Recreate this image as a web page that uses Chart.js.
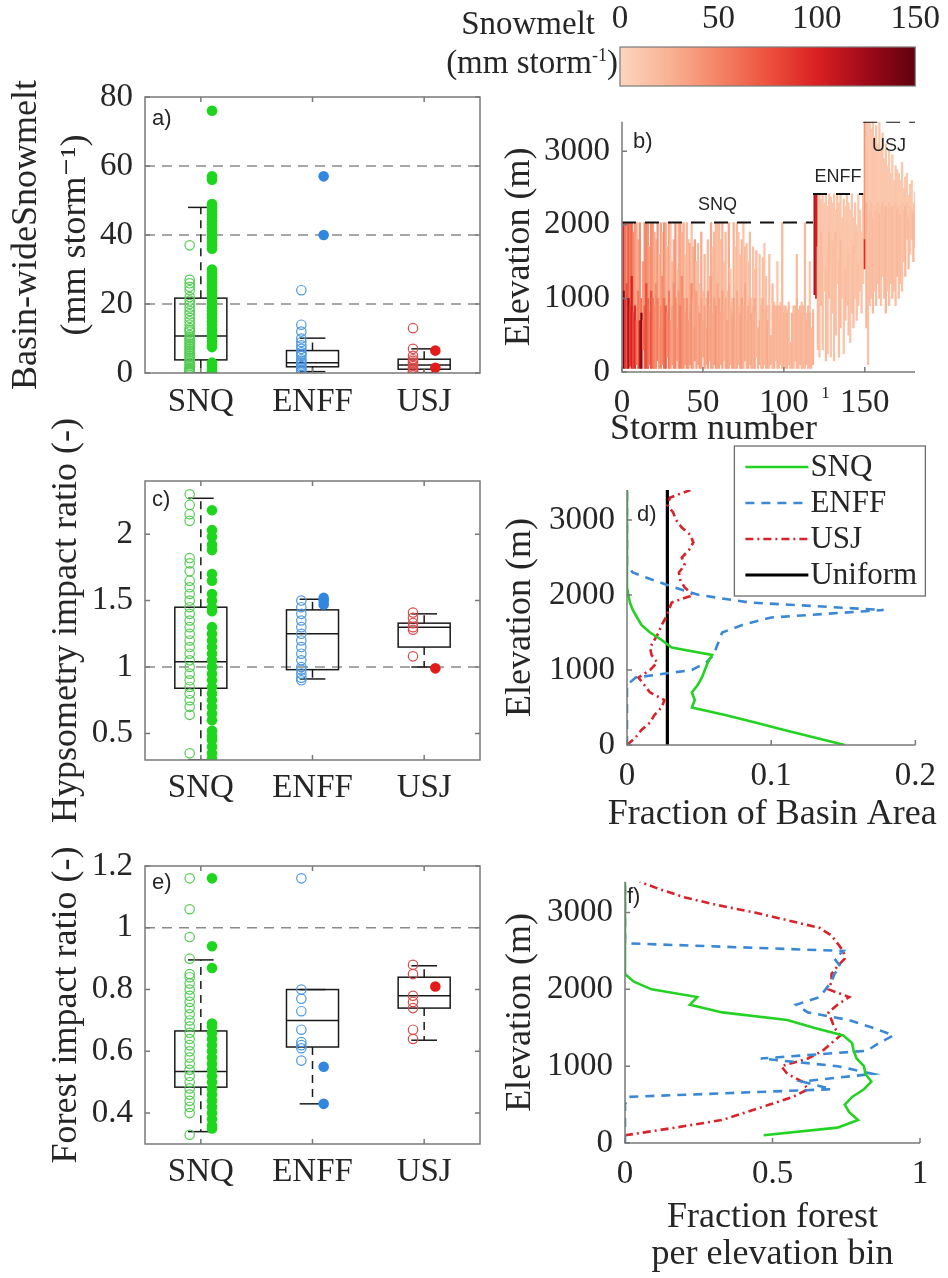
<!DOCTYPE html>
<html>
<head>
<meta charset="utf-8">
<title>Snowmelt, hypsometry and forest impact by basin</title>
<script src="https://cdn.jsdelivr.net/npm/chart.js"></script>
<style>
  html, body { margin: 0; padding: 0; background: #fff; }
  #page { position: relative; width: 948px; height: 1278px; overflow: hidden; background: #fff; }
  #page canvas { position: absolute; }
  .label { position: absolute; white-space: nowrap; color: #262626; font-family: "Liberation Serif", Tinos, "Times New Roman", "Nimbus Roman", "DejaVu Serif", serif; font-size: 33px; line-height: 1; }
  .label sup { font-size: 55%; }
</style>
</head>
<body>
<div id="page">
  <canvas id="colorbar"></canvas>
  <canvas id="snowBox"></canvas>
  <canvas id="hypsoBox"></canvas>
  <canvas id="forestBox"></canvas>
  <canvas id="stormMap"></canvas>
  <canvas id="areaLines"></canvas>
  <canvas id="forestLines"></canvas>
  <div class="label" style="right:353px;top:7px">Snowmelt</div>
  <div class="label" style="right:330px;top:46px">(mm storm<sup>-1</sup>)</div>
</div>
<script>
// ---------------- data ----------------
const basins = ['SNQ', 'ENFF', 'USJ'];

// a) basin-wide snowmelt per storm (mm storm-1)
const meltOpenSNQ = [37, 27, 26, 25, 24, 22, 21, 20, 19, 18, 17, 16, 15, 14, 13, 12.5, 12, 11, 10.5, 10, 9.5, 9, 8.5, 8, 7.5, 7, 6.5, 6, 5.5, 5, 4.5, 4, 3.5, 3, 2.5, 2, 1.5, 1.2, 1, 0.8, 0.6, 0.4, 0.3, 0.2, 0.1, 0];
const meltFilledSNQ = [76, 57, 56, 49, 48, 47, 46, 45, 44, 43, 42, 41, 40, 39, 38, 37, 36, 30, 29, 28, 27, 26, 25, 24, 23, 22, 21, 20, 19, 18, 17, 16, 15, 14, 13, 12, 11, 10, 9, 8, 7.5, 3, 2, 1, 0.5, 0];
const meltOpenENFF = [24, 14, 12, 10, 9, 8, 7, 6, 5.5, 5, 4, 3.5, 3, 2.5, 2, 1.5, 1, 0.5];
const meltFilledENFF = [57, 40];
const meltOpenUSJ = [13, 7, 5, 4, 3.5, 3, 2.5, 2, 1.5, 1, 0.5, 0.2];
const meltFilledUSJ = [6.5, 1.5];
// [lower whisker, q1, median, q3, upper whisker]
const meltStats = [[0, 3.8, 10.7, 21.7, 48], [0.4, 1.8, 3.0, 6.5, 10.1], [0.1, 1.1, 2.3, 4.0, 7.0]];
const meltTicks = [0, 20, 40, 60, 80];
const meltRefs = [20, 40, 60];

// c) hypsometry impact ratio
const hypOpenSNQ = [2.3, 2.22, 2.15, 2.1, 1.82, 1.78, 1.72, 1.65, 1.6, 1.55, 1.5, 1.45, 1.4, 1.35, 1.3, 1.25, 1.2, 1.15, 1.1, 1.05, 1.0, 0.95, 0.9, 0.85, 0.8, 0.75, 0.7, 0.64, 0.35];
const hypFilledSNQ = [2.18, 2.03, 1.98, 1.92, 1.88, 1.7, 1.65, 1.55, 1.5, 1.45, 1.42, 1.3, 1.25, 1.2, 1.15, 1.1, 1.05, 1.0, 0.95, 0.9, 0.85, 0.8, 0.75, 0.7, 0.65, 0.6, 0.52, 0.48, 0.45, 0.4, 0.35, 0.31];
const hypOpenENFF = [1.5, 1.45, 1.4, 1.35, 1.3, 1.25, 1.2, 1.15, 1.1, 1.05, 1.0, 0.98, 0.95, 0.92, 0.9];
const hypFilledENFF = [1.52, 1.5, 1.47];
const hypOpenUSJ = [1.41, 1.37, 1.33, 1.3, 1.28, 1.08];
const hypFilledUSJ = [0.99];
const hypStats = [[0.3, 0.84, 1.04, 1.45, 2.27], [0.91, 0.98, 1.25, 1.43, 1.51], [1.0, 1.15, 1.3, 1.33, 1.4]];
const hypTicks = [0.5, 1, 1.5, 2];
const hypRefs = [1];

// e) forest impact ratio
const forOpenSNQ = [1.16, 1.06, 0.97, 0.9, 0.85, 0.84, 0.82, 0.8, 0.78, 0.76, 0.74, 0.72, 0.7, 0.68, 0.66, 0.64, 0.62, 0.6, 0.58, 0.56, 0.54, 0.52, 0.5, 0.48, 0.46, 0.44, 0.42, 0.4, 0.33];
const forFilledSNQ = [1.16, 0.94, 0.87, 0.69, 0.68, 0.66, 0.64, 0.62, 0.6, 0.58, 0.56, 0.54, 0.52, 0.5, 0.48, 0.46, 0.44, 0.42, 0.4, 0.38, 0.36, 0.35];
const forOpenENFF = [1.16, 0.8, 0.77, 0.73, 0.67, 0.63, 0.62, 0.61, 0.57];
const forFilledENFF = [0.55, 0.43];
const forOpenUSJ = [0.88, 0.85, 0.78, 0.76, 0.74, 0.67, 0.64];
const forFilledUSJ = [0.81];
const forStats = [[0.34, 0.484, 0.535, 0.666, 0.896], [0.43, 0.614, 0.7, 0.8, 0.8], [0.636, 0.74, 0.78, 0.84, 0.877]];
const forTicks = [0.4, 0.6, 0.8, 1, 1.2];
const forRefs = [1];

// b) snowmelt by storm and elevation: per storm a lower and an upper band
const stormBottom = [
  50,50,50,50,80,50,50,50,100,50, 50,50,300,50,50,50,100,50,50,50,
  50,150,50,50,100,50,50,200,50,50, 100,50,50,150,50,50,50,50,100,50,
  50,100,50,50,150,50,100,50,50,200, 50,100,50,150,50,50,100,50,50,50,
  100,50,150,50,50,50,100,50,50,50, 50,100,50,50,50,150,50,50,100,50,
  50,50,200,50,100,50,50,100,50,50, 50,100,50,50,150,50,50,100,50,50,
  50,50,100,50,50,50,150,50,50,100, 50,50,50,100,50,50,50,100,
  1050,1000,300,200,900,300,1100,150,250,1000,200,800, 150,500,1200,200,600,1000,250,700,900,500,
  400,800,600,1000,700,900,1100,800,1200,
  1400,600,100,900,1000,800,1100,900,1200,1000,900, 1300,1000,800,1100,900,1200,1000,1100,900,1300,
  1000,1200,1100,1500,1300,1800,1400,1600,1800,1500,1700];
const stormMid = [
  1100,1000,1200,1000,900,1300,800,900,700,1100, 700,800,700,900,1200,1000,800,1100,1000,900,
  1200,1000,600,900,1300,1000,900,800,1100,700, 900,1200,1000,600,1100,900,1300,1000,800,1000,
  700,900,1200,1000,600,1100,900,800,1000,700, 900,600,1100,900,1300,800,1000,900,1200,1000,
  800,1100,900,1000,700,1200,900,800,1000,600, 1100,900,800,1000,900,1200,700,900,1000,800,
  900,1000,800,900,700,900,1000,800,900,700, 900,800,1000,900,800,900,700,900,1000,800,
  900,800,900,700,800,900,800,1000,800,900, 800,900,1000,700,900,800,900,800,
  2420,2420,1700,1500,1900,1600,1800,1400,1700,1900,1500,1800, 1600,1900,1700,1500,1800,1600,1900,1400,1700,1600,
  1800,1500,1700,1600,1900,1500,1800,1600,1700,
  1800,2300,1900,2200,2300,2100,2250,2200,2300,2150,2250, 2300,2200,2250,2150,2300,2200,2250,2100,2300,2200,
  2250,2150,2300,2200,2250,2300,2100,2250,2200,2150,2300];
const stormTop = [
  2030,2030,2030,2030,2030,2030,1900,2030,2030,1800, 2030,1000,1500,2030,2030,2030,1700,2030,2030,1900,
  1800,2030,1600,2030,1900,2030,2030,1700,2030,2030, 1500,1800,2030,1400,2030,2030,1900,2030,1600,2030,
  1800,1750,2030,1700,1800,1500,1750,1200,1900,1100, 1600,1000,1800,1300,2030,1700,1900,2030,2030,2030,
  1800,2030,1500,1900,1100,2030,1400,1000,2030,1700, 2030,1900,1600,1800,2030,1700,1750,1500,1900,1000,
  1700,1400,1650,600,1600,1000,1550,1750,1300,900, 1600,500,1200,950,900,1500,900,950,2030,900,
  900,850,950,400,800,900,900,1600,850,900, 950,900,2030,800,900,1500,600,850,
  2420,2420,2420,2400,2350,2420,2300,2400,2250,2420,2380,2300, 2420,2200,2400,2300,2420,2100,2350,2250,2420,2300,
  2200,2420,2100,2300,2000,2420,2200,1900,2420,
  3400,3400,3400,3400,3300,3400,3200,3350,3100,3400,3000, 3250,2900,3100,2800,3000,2700,2950,2600,2800,2750,
  2700,2600,2850,2500,2650,2700,2400,2550,2600,2300,2450];
const stormMeltLow = [
  140,90,75,120,85,100,80,95,60,55, 110,135,60,70,80,65,55,75,60,50,
  45,55,40,50,45,60,70,45,55,40, 35,45,50,35,40,55,45,40,35,45,
  40,35,45,30,40,35,30,40,35,30, 35,30,40,30,35,30,35,40,30,35,
  30,35,25,30,35,30,25,30,35,25, 30,25,30,35,25,30,25,30,25,30,
  25,30,20,25,30,20,25,20,25,30, 20,25,20,25,20,25,20,25,20,25,
  20,25,20,20,25,20,20,25,20,20, 25,20,20,25,20,25,20,25,
  115,105,18,14,20,16,12,18,15,20,12,16, 14,18,12,16,20,14,12,18,14,16,
  12,14,18,12,14,16,12,14,10,
  95,25,14,18,16,20,14,18,16,22,14, 18,16,22,14,17,15,20,14,16,22,
  15,20,14,17,22,15,20,14,17,22,15];
const stormMeltHigh = [
  95,60,45,70,55,65,50,40,30,30, 45,60,35,45,50,40,35,45,40,30,
  25,40,20,35,15,45,30,20,35,15, 20,30,40,15,25,35,20,30,15,25,
  20,30,15,25,35,15,20,15,30,15, 25,15,20,15,30,15,25,20,15,20,
  15,25,12,20,15,30,12,15,25,12, 20,12,15,25,12,20,15,12,18,12,
  15,12,20,12,15,12,18,12,15,12, 15,12,18,12,15,12,15,12,20,12,
  15,12,15,12,15,12,15,18,15,12, 15,12,20,12,15,12,15,12,
  10,10,12,10,14,10,12,11,10,13,12,10, 12,10,14,11,12,10,13,10,12,11,
  10,12,10,13,11,10,12,10,11,
  40,12,10,11,10,12,10,11,10,12,10, 11,10,12,10,10,11,10,10,12,11,
  10,10,11,10,12,10,10,11,10,10,12];
const basinCrest = [2030, 2420, 3400];
const basinFirstStorm = [0, 118, 149];
const basinLastStorm = [118, 149, 181];
const stormTicksX = [0, 50, 100, 150];
const elevTicks = [0, 1000, 2000, 3000];

// colour scale (mm storm-1)
const colorbarTicks = [0, 50, 100, 150];
const cmapStops = [0, 25, 50, 75, 100, 125, 150];
const cmapRGB = [[252, 214, 190], [249, 178, 148], [244, 132, 102], [236, 82, 62], [218, 32, 34], [160, 10, 26], [96, 0, 14]];

// d) hypsometry and f) forest fraction per 100 m elevation bin
const elevBins = [0, 100, 200, 300, 400, 500, 600, 700, 800, 900, 1000, 1100, 1200, 1300, 1400, 1500, 1600, 1700,
  1800, 1900, 2000, 2100, 2200, 2300, 2400, 2500, 2600, 2700, 2800, 2900, 3000, 3100, 3200, 3300, 3400];
const areaSNQ = [0.151, 0.130, 0.109, 0.089, 0.068, 0.045, 0.047, 0.045, 0.049, 0.052, 0.054, 0.056, 0.059, 0.031, 0.024, 0.016, 0.010, 0.007,
  0.004, 0.002, 0.001, 0, 0, 0, 0, 0, 0, 0, 0, 0, 0, 0, 0, 0, 0];
const areaENFF = [0, 0, 0, 0, 0, 0, 0, 0, 0, 0.006, 0.045, 0.055, 0.060, 0.062, 0.064, 0.066, 0.080, 0.100,
  0.178, 0.085, 0.050, 0.033, 0.018, 0.004, 0, 0, 0, 0, 0, 0, 0, 0, 0, 0, 0];
const areaUSJ = [0, 0.006, 0.010, 0.016, 0.019, 0.024, 0.026, 0.016, 0.012, 0.008, 0.016, 0.021, 0.017, 0.016, 0.019, 0.022, 0.024, 0.027,
  0.029, 0.031, 0.046, 0.040, 0.037, 0.036, 0.040, 0.038, 0.043, 0.046, 0.044, 0.038, 0.034, 0.032, 0.028, 0.030, 0.044];
const uniformFraction = 0.028;
const areaTicks = [0, 0.1, 0.2];
const forestSNQ = [null, 0.47, 0.72, 0.79, 0.76, 0.745, 0.77, 0.81, 0.835, 0.815, 0.81, 0.785, 0.775, 0.77, 0.74, 0.64, 0.55, 0.33,
  0.22, 0.245, 0.09, 0.03, 0, 0, 0, 0, 0, 0, 0, 0, 0, 0, 0, 0, 0];
const forestENFF = [0, 0, 0, 0, 0, 0, 0.01, 0.70, 0.60, 0.84, 0.72, 0.46, 0.82, 0.86, 0.91, 0.84, 0.76, 0.62,
  0.58, 0.66, 0.68, 0.70, 0.71, 0.73, 0.71, 0.74, 0, 0, 0, 0, 0, 0, 0, 0, 0];
const forestUSJ = [null, 0.0, 0.17, 0.33, 0.41, 0.49, 0.57, 0.62, 0.60, 0.55, 0.53, 0.62, 0.67, 0.70, 0.73, 0.71, 0.70, 0.69,
  0.72, 0.76, 0.69, 0.70, 0.70, 0.72, 0.745, 0.74, 0.72, 0.70, 0.66, 0.55, 0.44, 0.31, 0.20, 0.12, 0.05];
const forestTicks = [0, 0.5, 1];

// ---------------- style ----------------
const SERIF = '"Liberation Serif", Tinos, "Times New Roman", "Nimbus Roman", "DejaVu Serif", serif';
const SANS = '"Liberation Sans", Arial, sans-serif';
const INK = '#262626';
const AXIS = '#7a7a7a';
const filledColors = ['#1fd61f', '#3187df', '#e41b1b'];
const openColors = ['#52cc52', '#4d98e4', '#dc4b4b'];
const lineColors = ['#24d224', '#3a88d6', '#d8232a'];
const lineDash = [[], [9, 7], [8, 4, 2, 4]];

Chart.defaults.font.family = SERIF;
Chart.defaults.color = INK;
Chart.defaults.animation = false;
Chart.defaults.responsive = false;
Chart.defaults.events = [];
Chart.defaults.plugins.legend.display = false;
Chart.defaults.plugins.tooltip.enabled = false;

function seg(ctx, x1, y1, x2, y2) {
  ctx.beginPath(); ctx.moveTo(x1, y1); ctx.lineTo(x2, y2); ctx.stroke();
}

function meltColor(v) {
  const t = Math.max(0, Math.min(150, v));
  let i = 0;
  while (i < cmapStops.length - 2 && t > cmapStops[i + 1]) i++;
  const f = (t - cmapStops[i]) / (cmapStops[i + 1] - cmapStops[i]);
  const c = cmapRGB[i].map((a, k) => Math.round(a + (cmapRGB[i + 1][k] - a) * f));
  return `rgb(${c[0]},${c[1]},${c[2]})`;
}

// matlab-ish axes: box / L frame, inside ticks, boxplots, panel tag, captions, legend
const matlabAxes = {
  id: 'matlabAxes',
  beforeDatasetsDraw(chart, args, o) {
    if (!o.refs && !o.stats) return;
    const {ctx, chartArea: a} = chart;
    const x = chart.scales.x, y = chart.scales.y;
    ctx.save();
    ctx.beginPath(); ctx.rect(a.left, a.top, a.right - a.left, a.bottom - a.top); ctx.clip();
    ctx.strokeStyle = '#8a8a8a'; ctx.lineWidth = 1.6; ctx.setLineDash([10, 7]);
    (o.refs || []).forEach(v => {
      const p = y.getPixelForValue(v);
      seg(ctx, a.left, p, a.right, p);
    });
    (o.stats || []).forEach((s, i) => {
      const c = i + 1;
      const [lo, q1, md, q3, hi] = s;
      const X = v => x.getPixelForValue(v), Y = v => y.getPixelForValue(v);
      ctx.strokeStyle = '#1a1a1a'; ctx.lineWidth = 1.5; ctx.setLineDash([]);
      ctx.strokeRect(X(c - o.boxHalf), Y(q3), X(c + o.boxHalf) - X(c - o.boxHalf), Y(q1) - Y(q3));
      seg(ctx, X(c - o.boxHalf), Y(md), X(c + o.boxHalf), Y(md));
      seg(ctx, X(c - o.capHalf), Y(hi), X(c + o.capHalf), Y(hi));
      seg(ctx, X(c - o.capHalf), Y(lo), X(c + o.capHalf), Y(lo));
      ctx.setLineDash([8, 6]);
      seg(ctx, X(c), Y(q3), X(c), Y(hi));
      seg(ctx, X(c), Y(q1), X(c), Y(lo));
    });
    ctx.restore();
  },
  afterDatasetsDraw(chart, args, o) {
    const {ctx, chartArea: a} = chart;
    const x = chart.scales.x, y = chart.scales.y;
    ctx.save();
    ctx.strokeStyle = AXIS; ctx.lineWidth = 1.5; ctx.setLineDash([]);
    if (o.frame) {
      ctx.beginPath();
      if (o.frame === 'box') ctx.rect(a.left, a.top, a.right - a.left, a.bottom - a.top);
      else { ctx.moveTo(a.left, a.top); ctx.lineTo(a.left, a.bottom); ctx.lineTo(a.right, a.bottom); }
      ctx.stroke();
      const t = 5;
      ctx.beginPath();
      y.ticks.forEach(tk => {
        const p = y.getPixelForValue(tk.value);
        ctx.moveTo(a.left, p); ctx.lineTo(a.left + t, p);
        if (o.frame === 'box') { ctx.moveTo(a.right, p); ctx.lineTo(a.right - t, p); }
      });
      x.ticks.forEach(tk => {
        const p = x.getPixelForValue(tk.value);
        ctx.moveTo(p, a.bottom); ctx.lineTo(p, a.bottom - t);
        if (o.frame === 'box') { ctx.moveTo(p, a.top); ctx.lineTo(p, a.top + t); }
      });
      ctx.stroke();
    }
    if (o.outline) {
      ctx.lineWidth = 1.2;
      ctx.strokeRect(a.left, a.top, a.right - a.left, a.bottom - a.top);
    }
    ctx.fillStyle = INK;
    if (o.tag) {
      ctx.font = '22px ' + SANS; ctx.textAlign = 'left'; ctx.textBaseline = 'alphabetic';
      ctx.fillText(o.tag[0], a.left + o.tag[1], a.top + o.tag[2]);
    }
    (o.notes || []).forEach(n => {
      ctx.font = n.size + 'px ' + SANS; ctx.textAlign = 'center'; ctx.textBaseline = 'middle';
      ctx.fillText(n.text, x.getPixelForValue(n.x), y.getPixelForValue(n.y) + n.dy);
    });
    (o.captions || []).forEach(c => {
      ctx.font = c.size + 'px ' + SERIF; ctx.textAlign = 'center'; ctx.textBaseline = 'middle';
      ctx.fillText(c.text, (a.left + a.right) / 2 + c.dx, a.bottom + c.dy);
    });
    if (o.legend) {
      const L = o.legend;
      const bx = a.right + L.right - L.w, by = a.top + L.top;
      ctx.fillStyle = '#fff'; ctx.fillRect(bx, by, L.w, L.h);
      ctx.strokeStyle = '#6e6e6e'; ctx.lineWidth = 1.3; ctx.strokeRect(bx, by, L.w, L.h);
      chart.data.datasets.forEach((ds, i) => {
        const ry = by + L.first + i * L.row;
        ctx.strokeStyle = ds.borderColor; ctx.lineWidth = ds.borderWidth; ctx.setLineDash(ds.borderDash || []);
        seg(ctx, bx + 11, ry, bx + 74, ry);
        ctx.setLineDash([]);
        ctx.fillStyle = INK; ctx.font = '31px ' + SERIF; ctx.textAlign = 'left'; ctx.textBaseline = 'middle';
        ctx.fillText(ds.label, bx + 76, ry + 1);
      });
    }
    ctx.restore();
  }
};
Chart.register(matlabAxes);

// ---------------- layout helpers ----------------
function mount(id, box) {
  const c = document.getElementById(id);
  c.width = box.w; c.height = box.h;
  c.style.left = box.x + 'px'; c.style.top = box.y + 'px';
  return c;
}
function frame(box, area) {
  return {
    padding: {left: 0, top: area.t - box.y, right: box.x + box.w - area.r, bottom: 0},
    yw: area.l - box.x,
    xh: box.y + box.h - area.b
  };
}
function axis(o) {
  return {
    type: 'linear', min: o.min, max: o.max, offset: false, position: o.position,
    grid: {display: false, drawTicks: false}, border: {display: false},
    afterBuildTicks: s => { s.ticks = o.ticks.map(v => ({value: v})); },
    afterFit: s => { if (o.w !== undefined) s.width = o.w; if (o.h !== undefined) s.height = o.h; },
    ticks: {font: {size: 33, family: SERIF}, color: INK, padding: o.pad, autoSkip: false, maxRotation: 0, minRotation: 0,
      callback: o.fmt || (v => String(v))},
    title: o.title ? {display: true, text: o.title, color: INK, font: {size: 36, family: SERIF, lineHeight: o.lh || 1.2},
      padding: {top: o.tpad, bottom: 0}} : {display: false}
  };
}

// ---------------- boxplot panels (a, c, e) ----------------
function boxPanel(id, box, area, p) {
  const f = frame(box, area);
  const datasets = [];
  basins.forEach((b, i) => {
    datasets.push({data: p.open[i].map(v => ({x: i + 1 - 0.1, y: v})), pointRadius: 4.7, pointBorderWidth: 1.2,
      pointBackgroundColor: 'rgba(0,0,0,0)', pointBorderColor: openColors[i]});
    datasets.push({data: p.filled[i].map(v => ({x: i + 1 + 0.1, y: v})), pointRadius: 5.3, pointBorderWidth: 0,
      pointBackgroundColor: filledColors[i], pointBorderColor: filledColors[i]});
  });
  new Chart(mount(id, box), {
    type: 'scatter',
    data: {datasets},
    options: {
      layout: {padding: f.padding},
      scales: {
        x: axis({min: 0.5, max: 3.5, ticks: [1, 2, 3], h: f.xh, pad: p.xpad, fmt: v => basins[v - 1]}),
        y: axis({min: p.min, max: p.max, ticks: p.ticks, w: f.yw, pad: 12, title: p.title, tpad: p.tpad, lh: p.lh})
      },
      plugins: {matlabAxes: {frame: 'box', refs: p.refs, stats: p.stats, boxHalf: 0.233, capHalf: 0.115, tag: p.tag}}
    }
  });
}

boxPanel('snowBox', {x: 0, y: 60, w: 492, h: 380}, {l: 145, t: 97, r: 480, b: 373}, {
  open: [meltOpenSNQ, meltOpenENFF, meltOpenUSJ], filled: [meltFilledSNQ, meltFilledENFF, meltFilledUSJ],
  stats: meltStats, refs: meltRefs, ticks: meltTicks, min: 0, max: 80, xpad: 10,
  title: ['Basin-wideSnowmelt', '(mm storm\u207B\u00B9)'], tpad: 2, lh: 1.36, tag: ['a)', 7, 28]
});
boxPanel('hypsoBox', {x: 0, y: 385, w: 492, h: 455}, {l: 145, t: 481, r: 480, b: 760}, {
  open: [hypOpenSNQ, hypOpenENFF, hypOpenUSJ], filled: [hypFilledSNQ, hypFilledENFF, hypFilledUSJ],
  stats: hypStats, refs: hypRefs, ticks: hypTicks, min: 0.3, max: 2.4, xpad: 9,
  title: 'Hypsometry impact ratio (-)', tpad: 45, tag: ['c)', 7, 25]
});
boxPanel('forestBox', {x: 0, y: 825, w: 492, h: 400}, {l: 145, t: 866, r: 480, b: 1144}, {
  open: [forOpenSNQ, forOpenENFF, forOpenUSJ], filled: [forFilledSNQ, forFilledENFF, forFilledUSJ],
  stats: forStats, refs: forRefs, ticks: forTicks, min: 0.3, max: 1.2, xpad: 9,
  title: 'Forest impact ratio (-)', tpad: 45, tag: ['e)', 7, 23]
});

// ---------------- colour bar ----------------
(function () {
  const box = {x: 496, y: 0, w: 452, h: 92};
  new Chart(mount('colorbar', box), {
    type: 'bar',
    data: {labels: [''], datasets: [{
      data: [[colorbarTicks[0], colorbarTicks[colorbarTicks.length - 1]]],
      barPercentage: 1, categoryPercentage: 1, borderWidth: 0,
      backgroundColor: c => {
        const xs = c.chart.scales.x;
        if (!xs || xs.left === undefined) return meltColor(75);
        const g = c.chart.ctx.createLinearGradient(xs.getPixelForValue(0), 0, xs.getPixelForValue(150), 0);
        cmapStops.forEach(v => g.addColorStop(v / 150, meltColor(v)));
        return g;
      }
    }]},
    options: {
      indexAxis: 'y',
      layout: {padding: {left: 124, right: 32, top: 0, bottom: 6}},
      scales: {
        x: axis({min: 0, max: 150, ticks: colorbarTicks, h: 47, pad: 8, position: 'top'}),
        y: {display: false}
      },
      plugins: {matlabAxes: {outline: true}}
    }
  });
})();

// ---------------- b) storm x elevation snowmelt ----------------
(function () {
  const box = {x: 496, y: 90, w: 452, h: 360};
  const f = frame(box, {l: 622, t: 98, r: 915, b: 372});
  const low = [], lowCol = [], high = [], highCol = [];
  stormTop.forEach((top, i) => {
    const s = i + 1;
    const mid = Math.min(stormMid[i], top);
    low.push({x: s, y: [stormBottom[i], mid]});
    lowCol.push(meltColor(stormMeltLow[i]));
    if (top > mid) {
      high.push({x: s, y: [mid, top]});
      highCol.push(meltColor(stormMeltHigh[i]));
    }
  });
  const datasets = [
    {type: 'bar', data: low, backgroundColor: lowCol, borderWidth: 0, grouped: false,
      barPercentage: 1, categoryPercentage: 1, order: 2},
    {type: 'bar', data: high, backgroundColor: highCol, borderWidth: 0, grouped: false,
      barPercentage: 1, categoryPercentage: 1, order: 2}
  ];
  basins.forEach((b, i) => {
    datasets.push({type: 'line', data: [{x: basinFirstStorm[i], y: basinCrest[i]}, {x: basinLastStorm[i], y: basinCrest[i]}],
      borderColor: '#111', borderWidth: 2, borderDash: [14, 9], pointRadius: 0, order: 0});
  });
  const noteShift = [-18, -17, 24];
  new Chart(mount('stormMap', box), {
    type: 'bar',
    data: {datasets},
    options: {
      layout: {padding: f.padding},
      scales: {
        x: axis({min: 0, max: 181, ticks: stormTicksX, h: f.xh, pad: 12}),
        y: axis({min: 0, max: 3400, ticks: elevTicks, w: f.yw, pad: 12, title: 'Elevation (m)', tpad: 2})
      },
      plugins: {matlabAxes: {
        frame: 'L', tag: ['b)', 11, 26],
        notes: basins.map((b, i) => ({text: b, x: (basinFirstStorm[i] + basinLastStorm[i]) / 2, y: basinCrest[i], dy: noteShift[i], size: 18})),
        captions: [{text: 'Storm number', dx: -55, dy: 58, size: 36}, {text: '1', dx: 57, dy: 22, size: 17}]
      }}
    }
  });
})();

// ---------------- d) and f) profiles ----------------
function profilePanel(id, box, area, p) {
  const f = frame(box, area);
  const series = [
    {label: 'SNQ', values: p.series[0]}, {label: 'ENFF', values: p.series[1]}, {label: 'USJ', values: p.series[2]}
  ];
  const datasets = series.map((s, i) => ({
    label: s.label,
    data: elevBins.map((e, k) => ({x: s.values[k], y: e})).filter(pt => pt.x !== null),
    showLine: true, pointRadius: 0, borderColor: lineColors[i], borderWidth: 2.6, borderDash: lineDash[i], tension: 0
  }));
  if (p.uniform !== undefined) {
    datasets.push({label: 'Uniform', data: [{x: p.uniform, y: elevBins[0]}, {x: p.uniform, y: elevBins[elevBins.length - 1]}],
      showLine: true, pointRadius: 0, borderColor: '#000', borderWidth: 3.2, borderDash: []});
  }
  new Chart(mount(id, box), {
    type: 'scatter',
    data: {datasets},
    options: {
      layout: {padding: f.padding},
      scales: {
        x: axis({min: p.xmin, max: p.xmax, ticks: p.xticks, h: f.xh, pad: 12}),
        y: axis({min: 0, max: 3400, ticks: elevTicks, w: f.yw, pad: 12, title: 'Elevation (m)', tpad: 3})
      },
      plugins: {matlabAxes: {frame: 'L', tag: p.tag, captions: p.captions, legend: p.legend}}
    }
  });
}

profilePanel('areaLines', {x: 496, y: 440, w: 452, h: 400}, {l: 627, t: 490, r: 920, b: 745}, {
  series: [areaSNQ, areaENFF, areaUSJ], uniform: uniformFraction, xmin: 0, xmax: 0.2, xticks: areaTicks,
  tag: ['d)', 10, 31],
  captions: [{text: 'Fraction of Basin Area', dx: 1, dy: 70, size: 36}],
  legend: {right: 10, top: -44, w: 191, h: 150, first: 21, row: 36}
});
profilePanel('forestLines', {x: 496, y: 850, w: 452, h: 428}, {l: 625, t: 869, r: 920, b: 1143}, {
  series: [forestSNQ, forestENFF, forestUSJ], xmin: 0, xmax: 1, xticks: forestTicks,
  tag: ['f)', 2, 21],
  captions: [{text: 'Fraction forest', dx: 0, dy: 75, size: 36}, {text: 'per elevation bin', dx: 0, dy: 112, size: 36}]
});
</script>
</body>
</html>
